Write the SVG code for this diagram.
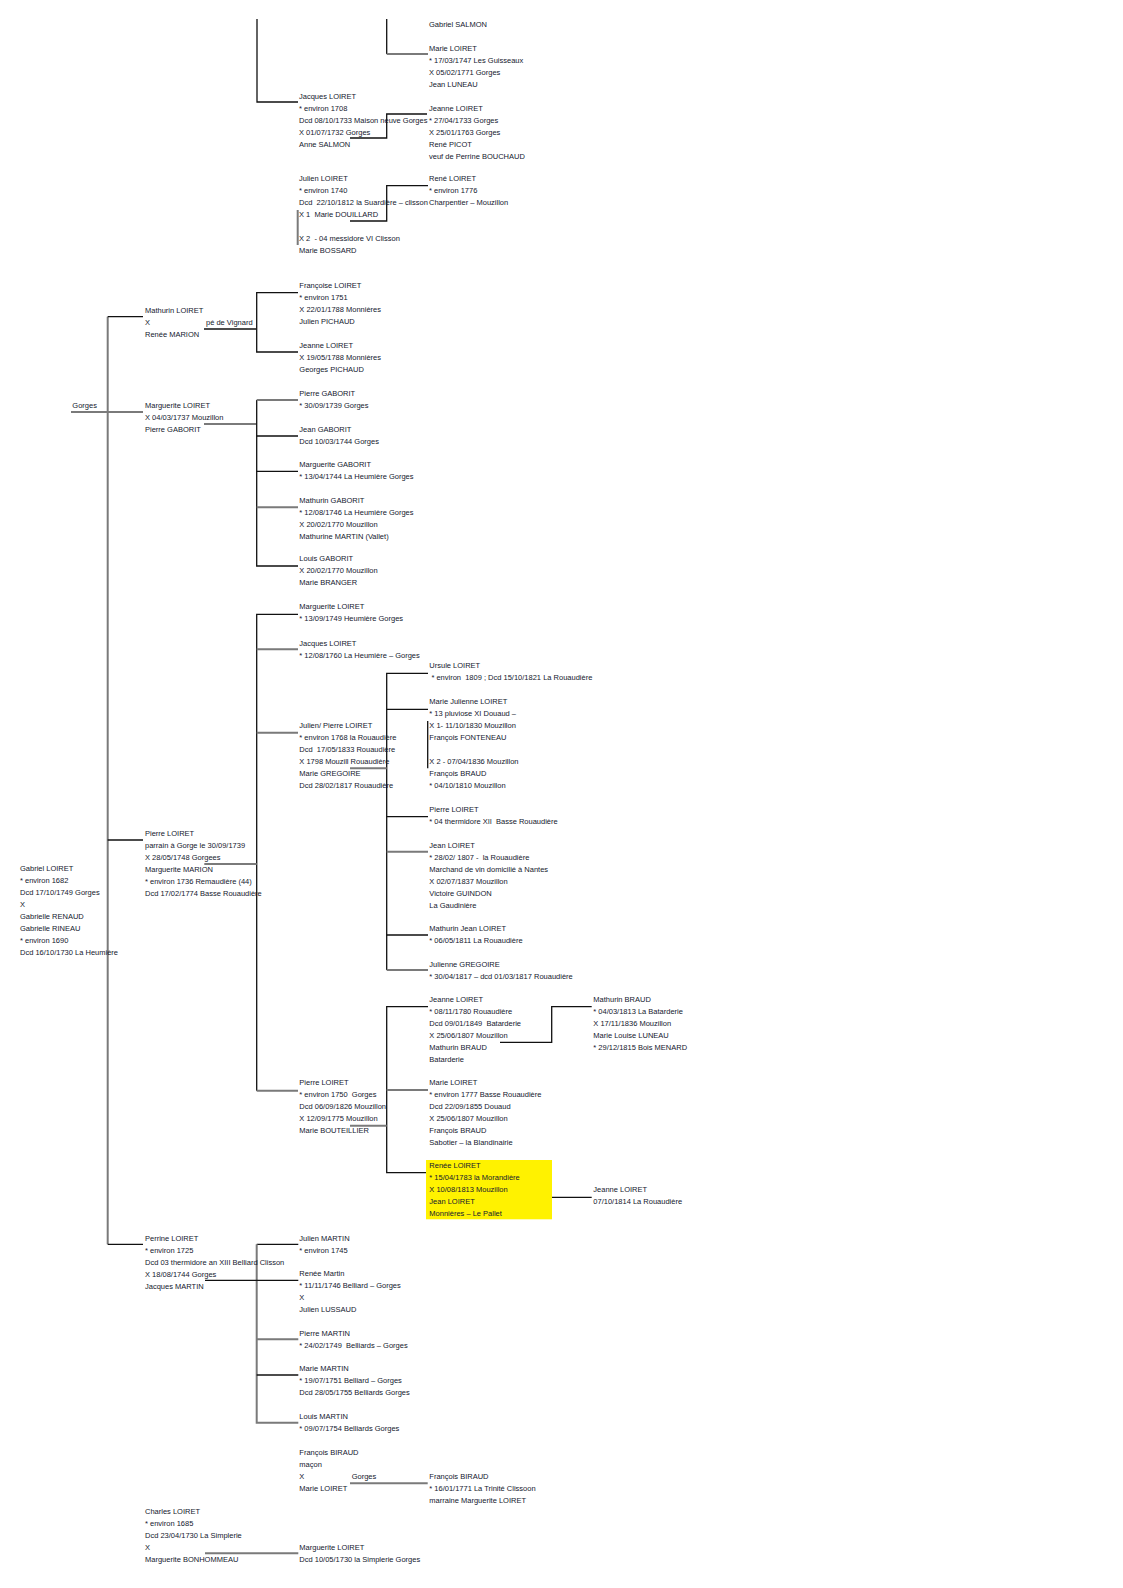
<svg xmlns="http://www.w3.org/2000/svg" width="1123" height="1588" viewBox="0 0 1123 1588">
<style>
text{font-family:"Liberation Sans",Arial,sans-serif;font-size:7.5px;fill:#14182e;white-space:pre}
.k{stroke:#111;stroke-width:1.3;fill:none}
.g{stroke:#7a7a7a;stroke-width:2;fill:none}
</style>
<rect width="1123" height="1588" fill="#fff"/>
<g id="connectors">
<path class="k" d="M257,19V102H298"/>
<path class="k" d="M386.7,19V54"/><path class="g" d="M386.7,54H428"/>
<path class="k" d="M350,138H386.7V114H427"/>
<path class="g" d="M297.7,210V245"/>
<path class="k" d="M350,221H386.7V185.7H428"/>
<path class="g" d="M107.7,316.7V1244.3"/>
<path class="k" d="M107.7,316.7H143"/>
<path class="k" d="M204,329H256"/>
<text x="206" y="324.7">pé de Vignard</text>
<path class="k" d="M298,292.7H256.7V352H298"/>
<path class="g" d="M71,412H143"/>
<text x="72.3" y="407.7">Gorges</text>
<path class="g" d="M204,424H256.7"/>
<path class="k" d="M256.7,400V566H298"/>
<path class="g" d="M256.7,400H298"/>
<path class="k" d="M256.7,436H298M256.7,471.3H298"/>
<path class="g" d="M256.7,507.3H298"/>
<path class="k" d="M298,614.3H256.7V1090.7"/>
<path class="g" d="M256.7,649.3H298M256.7,732.7H298M256.7,1090.7H298"/>
<path class="k" d="M107.7,840H143"/>
<path class="g" d="M204.3,864H256.7"/>
<path class="k" d="M428,673.3H386.7V970"/>
<path class="k" d="M386.7,709.3H428M386.7,816.7H428M386.7,935H428"/>
<path class="g" d="M386.7,851.7H428M386.7,970H428"/>
<path class="g" d="M350,768.3H386.7"/>
<path class="k" d="M427.7,721V768.3"/>
<path class="k" d="M428,1006.7H386.7V1172.7H426.7"/>
<path class="g" d="M386.7,1090H428"/>
<path class="k" d="M500,1042.3H551.7V1006.7H591.7"/>
<path class="g" d="M350,1125.7H386.7"/>
<path class="k" d="M500,1197.3H591.7"/>
<path class="k" d="M107.7,1244.3H143"/>
<path class="k" d="M298.3,1244.3H256.7"/>
<path class="g" d="M256.7,1244.3V1422.7H298.3M256.7,1339.3H298.3"/>
<path class="k" d="M256.7,1375H298.3"/>
<path class="k" d="M205,1280.3H298.3"/>
<path class="g" d="M350,1483.3H427.7"/>
<text x="351.7" y="1479">Gorges</text>
<path class="g" d="M205,1553.3H298.3"/>
</g>
<g id="n_gabriel_salmon"><text x="429" y="26.5">Gabriel SALMON</text></g>
<g id="n_marie_loiret_1747"><text x="429" y="50.7">Marie LOIRET</text><text x="429" y="62.7">* 17/03/1747 Les Guisseaux</text><text x="429" y="74.7">X 05/02/1771 Gorges</text><text x="429" y="86.7">Jean LUNEAU</text></g>
<g id="n_jacques_loiret_1708"><text x="299" y="98.5">Jacques LOIRET</text><text x="299" y="110.5">* environ 1708</text><text x="299" y="122.5">Dcd 08/10/1733 Maison neuve Gorges</text><text x="299" y="134.5">X 01/07/1732 Gorges</text><text x="299" y="146.5">Anne SALMON</text></g>
<g id="n_jeanne_loiret_1733"><text x="429" y="110.5">Jeanne LOIRET</text><text x="429" y="122.5">* 27/04/1733 Gorges</text><text x="429" y="134.5">X 25/01/1763 Gorges</text><text x="429" y="146.5">René PICOT</text><text x="429" y="158.5">veuf de Perrine BOUCHAUD</text></g>
<g id="n_julien_loiret_1740"><text x="299" y="181">Julien LOIRET</text><text x="299" y="193">* environ 1740</text><text x="299" y="205">Dcd  22/10/1812 la Suardière – clisson</text><text x="299" y="217">X 1  Marie DOUILLARD</text><text x="299" y="241">X 2  - 04 messidore VI Clisson</text><text x="299" y="253">Marie BOSSARD</text></g>
<g id="n_rene_loiret_1776"><text x="429" y="181">René LOIRET</text><text x="429" y="193">* environ 1776</text><text x="429" y="205">Charpentier – Mouzillon</text></g>
<g id="n_mathurin_loiret"><text x="145" y="312.7">Mathurin LOIRET</text><text x="145" y="324.7">X</text><text x="145" y="336.7">Renée MARION</text></g>
<g id="n_francoise_loiret"><text x="299.3" y="288.3">Françoise LOIRET</text><text x="299.3" y="300.3">* environ 1751</text><text x="299.3" y="312.3">X 22/01/1788 Monnières</text><text x="299.3" y="324.3">Julien PICHAUD</text></g>
<g id="n_jeanne_loiret_1788"><text x="299.3" y="347.7">Jeanne LOIRET</text><text x="299.3" y="359.7">X 19/05/1788 Monnières</text><text x="299.3" y="371.7">Georges PICHAUD</text></g>
<g id="n_marguerite_loiret_1737"><text x="145" y="407.7">Marguerite LOIRET</text><text x="145" y="419.7">X 04/03/1737 Mouzillon</text><text x="145" y="431.7">Pierre GABORIT</text></g>
<g id="n_pierre_gaborit"><text x="299.3" y="395.7">Pierre GABORIT</text><text x="299.3" y="407.7">* 30/09/1739 Gorges</text></g>
<g id="n_jean_gaborit"><text x="299.3" y="431.7">Jean GABORIT</text><text x="299.3" y="443.7">Dcd 10/03/1744 Gorges</text></g>
<g id="n_marguerite_gaborit"><text x="299.3" y="466.7">Marguerite GABORIT</text><text x="299.3" y="478.7">* 13/04/1744 La Heumière Gorges</text></g>
<g id="n_mathurin_gaborit"><text x="299.3" y="502.7">Mathurin GABORIT</text><text x="299.3" y="514.7">* 12/08/1746 La Heumière Gorges</text><text x="299.3" y="526.7">X 20/02/1770 Mouzillon</text><text x="299.3" y="538.7">Mathurine MARTIN (Vallet)</text></g>
<g id="n_louis_gaborit"><text x="299.3" y="561.3">Louis GABORIT</text><text x="299.3" y="573.3">X 20/02/1770 Mouzillon</text><text x="299.3" y="585.3">Marie BRANGER</text></g>
<g id="n_marguerite_loiret_1749"><text x="299.3" y="609.3">Marguerite LOIRET</text><text x="299.3" y="621.3">* 13/09/1749 Heumière Gorges</text></g>
<g id="n_jacques_loiret_1760"><text x="299.3" y="645.7">Jacques LOIRET</text><text x="299.3" y="657.7">* 12/08/1760 La Heumière – Gorges</text></g>
<g id="n_julien_pierre_loiret"><text x="299.3" y="728.3">Julien/ Pierre LOIRET</text><text x="299.3" y="740.3">* environ 1768 la Rouaudière</text><text x="299.3" y="752.3">Dcd  17/05/1833 Rouaudière</text><text x="299.3" y="764.3">X 1798 Mouzill Rouaudière</text><text x="299.3" y="776.3">Marie GREGOIRE</text><text x="299.3" y="788.3">Dcd 28/02/1817 Rouaudière</text></g>
<g id="n_ursule_loiret"><text x="429.3" y="668.3">Ursule LOIRET</text><text x="429.3" y="680.3"> * environ  1809 ; Dcd 15/10/1821 La Rouaudière</text></g>
<g id="n_marie_julienne_loiret"><text x="429.3" y="704.3">Marie Julienne LOIRET</text><text x="429.3" y="716.3">* 13 pluviose XI Douaud –</text><text x="429.3" y="728.3">X 1- 11/10/1830 Mouzillon</text><text x="429.3" y="740.3">François FONTENEAU</text><text x="429.3" y="764.3">X 2 - 07/04/1836 Mouzillon</text><text x="429.3" y="776.3">François BRAUD</text><text x="429.3" y="788.3">* 04/10/1810 Mouzillon</text></g>
<g id="n_pierre_loiret_1804"><text x="429.3" y="811.7">Pierre LOIRET</text><text x="429.3" y="823.7">* 04 thermidore XII  Basse Rouaudière</text></g>
<g id="n_jean_loiret_1807"><text x="429.3" y="847.7">Jean LOIRET</text><text x="429.3" y="859.7">* 28/02/ 1807 -  la Rouaudière</text><text x="429.3" y="871.7">Marchand de vin domicilié à Nantes</text><text x="429.3" y="883.7">X 02/07/1837 Mouzillon</text><text x="429.3" y="895.7">Victoire GUINDON</text><text x="429.3" y="907.7">La Gaudinière</text></g>
<g id="n_mathurin_jean_loiret"><text x="429.3" y="930.7">Mathurin Jean LOIRET</text><text x="429.3" y="942.7">* 06/05/1811 La Rouaudière</text></g>
<g id="n_julienne_gregoire"><text x="429.3" y="966.7">Julienne GREGOIRE</text><text x="429.3" y="978.7">* 30/04/1817 – dcd 01/03/1817 Rouaudière</text></g>
<g id="n_pierre_loiret_1739"><text x="145" y="835.7">Pierre LOIRET</text><text x="145" y="847.7">parrain à Gorge le 30/09/1739</text><text x="145" y="859.7">X 28/05/1748 Gorgees</text><text x="145" y="871.7">Marguerite MARION</text><text x="145" y="883.7">* environ 1736 Remaudière (44)</text><text x="145" y="895.7">Dcd 17/02/1774 Basse Rouaudière</text></g>
<g id="n_gabriel_loiret"><text x="20" y="871.3">Gabriel LOIRET</text><text x="20" y="883.3">* environ 1682</text><text x="20" y="895.3">Dcd 17/10/1749 Gorges</text><text x="20" y="907.3">X</text><text x="20" y="919.3">Gabrielle RENAUD</text><text x="20" y="931.3">Gabrielle RINEAU</text><text x="20" y="943.3">* environ 1690</text><text x="20" y="955.3">Dcd 16/10/1730 La Heumière</text></g>
<g id="n_jeanne_loiret_1780"><text x="429.3" y="1002.3">Jeanne LOIRET</text><text x="429.3" y="1014.3">* 08/11/1780 Rouaudière</text><text x="429.3" y="1026.3">Dcd 09/01/1849  Batarderie</text><text x="429.3" y="1038.3">X 25/06/1807 Mouzillon</text><text x="429.3" y="1050.3">Mathurin BRAUD</text><text x="429.3" y="1062.3">Batarderie</text></g>
<g id="n_mathurin_braud"><text x="593.3" y="1002.3">Mathurin BRAUD</text><text x="593.3" y="1014.3">* 04/03/1813 La Batarderie</text><text x="593.3" y="1026.3">X 17/11/1836 Mouzillon</text><text x="593.3" y="1038.3">Marie Louise LUNEAU</text><text x="593.3" y="1050.3">* 29/12/1815 Bois MENARD</text></g>
<g id="n_pierre_loiret_1750"><text x="299.3" y="1085">Pierre LOIRET</text><text x="299.3" y="1097">* environ 1750  Gorges</text><text x="299.3" y="1109">Dcd 06/09/1826 Mouzillon</text><text x="299.3" y="1121">X 12/09/1775 Mouzillon</text><text x="299.3" y="1133">Marie BOUTEILLIER</text></g>
<g id="n_marie_loiret_1777"><text x="429.3" y="1085">Marie LOIRET</text><text x="429.3" y="1097">* environ 1777 Basse Rouaudière</text><text x="429.3" y="1109">Dcd 22/09/1855 Douaud</text><text x="429.3" y="1121">X 25/06/1807 Mouzillon</text><text x="429.3" y="1133">François BRAUD</text><text x="429.3" y="1145">Sabotier – la Blandinairie</text></g>
<g id="n_renee_loiret"><rect x="426" y="1160" width="126" height="59.3" fill="#fff200"/><text x="429.3" y="1168.3">Renée LOIRET</text><text x="429.3" y="1180.3">* 15/04/1783 la Morandière</text><text x="429.3" y="1192.3">X 10/08/1813 Mouzillon</text><text x="429.3" y="1204.3">Jean LOIRET</text><text x="429.3" y="1216.3">Monnières – Le Pallet</text></g>
<g id="n_jeanne_loiret_1814"><text x="593.3" y="1192.3">Jeanne LOIRET</text><text x="593.3" y="1204.3">07/10/1814 La Rouaudière</text></g>
<g id="n_perrine_loiret"><text x="145" y="1240.7">Perrine LOIRET</text><text x="145" y="1252.7">* environ 1725</text><text x="145" y="1264.7">Dcd 03 thermidore an XIII Belliard Clisson</text><text x="145" y="1276.7">X 18/08/1744 Gorges</text><text x="145" y="1288.7">Jacques MARTIN</text></g>
<g id="n_julien_martin"><text x="299.3" y="1240.7">Julien MARTIN</text><text x="299.3" y="1252.7">* environ 1745</text></g>
<g id="n_renee_martin"><text x="299.3" y="1275.7">Renée Martin</text><text x="299.3" y="1287.7">* 11/11/1746 Belliard – Gorges</text><text x="299.3" y="1299.7">X</text><text x="299.3" y="1311.7">Julien LUSSAUD</text></g>
<g id="n_pierre_martin"><text x="299.3" y="1335.7">Pierre MARTIN</text><text x="299.3" y="1347.7">* 24/02/1749  Belliards – Gorges</text></g>
<g id="n_marie_martin"><text x="299.3" y="1370.7">Marie MARTIN</text><text x="299.3" y="1382.7">* 19/07/1751 Belliard – Gorges</text><text x="299.3" y="1394.7">Dcd 28/05/1755 Belliards Gorges</text></g>
<g id="n_louis_martin"><text x="299.3" y="1418.7">Louis MARTIN</text><text x="299.3" y="1430.7">* 09/07/1754 Belliards Gorges</text></g>
<g id="n_francois_biraud"><text x="299.3" y="1455">François BIRAUD</text><text x="299.3" y="1467">maçon</text><text x="299.3" y="1479">X</text><text x="299.3" y="1491">Marie LOIRET</text></g>
<g id="n_francois_biraud_1771"><text x="429.3" y="1479">François BIRAUD</text><text x="429.3" y="1491">* 16/01/1771 La Trinité Clissoon</text><text x="429.3" y="1503">marraine Marguerite LOIRET</text></g>
<g id="n_charles_loiret"><text x="145" y="1514">Charles LOIRET</text><text x="145" y="1526">* environ 1685</text><text x="145" y="1538">Dcd 23/04/1730 La Simplerie</text><text x="145" y="1550">X</text><text x="145" y="1562">Marguerite BONHOMMEAU</text></g>
<g id="n_marguerite_loiret_1730"><text x="299.3" y="1550">Marguerite LOIRET</text><text x="299.3" y="1562">Dcd 10/05/1730 la Simplerie Gorges</text></g>
</svg>
